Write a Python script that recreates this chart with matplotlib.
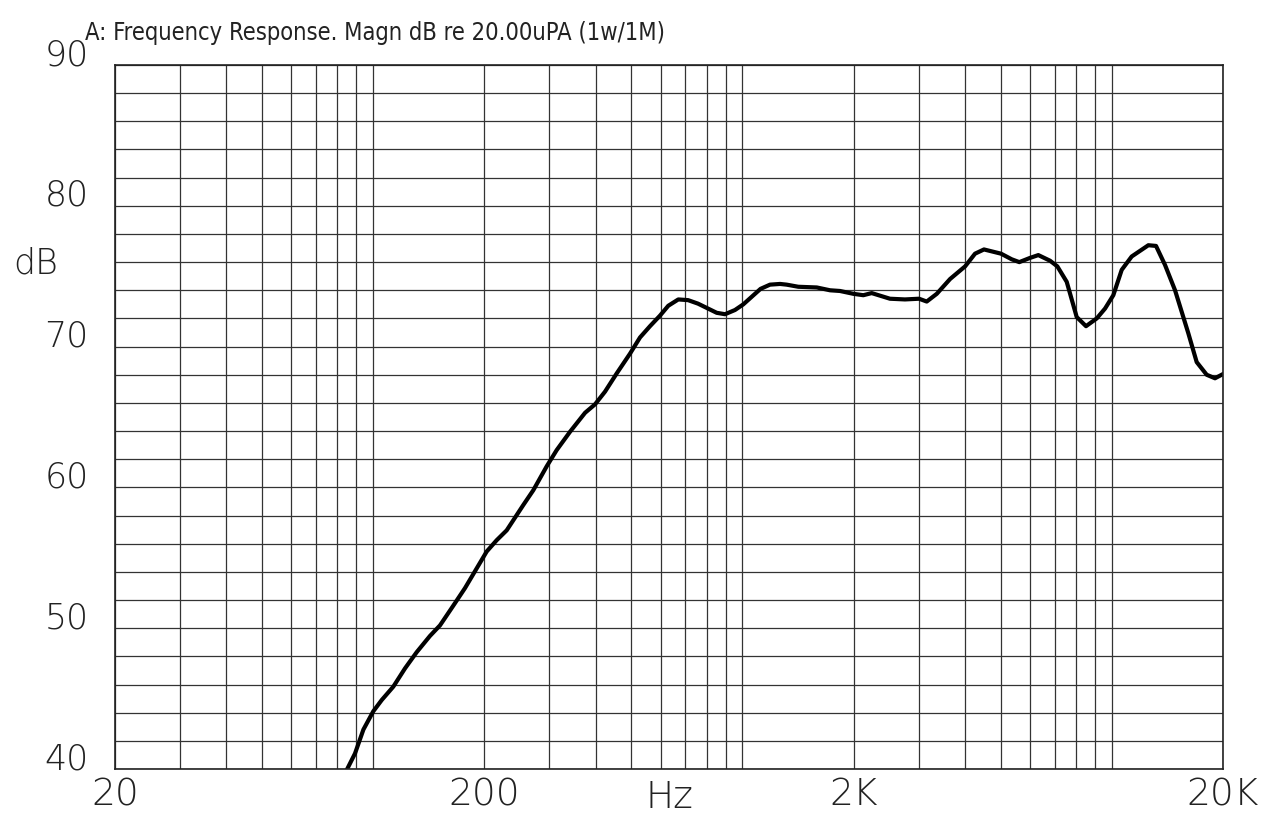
import matplotlib
matplotlib.use("Agg")
import matplotlib.pyplot as plt
from matplotlib.ticker import FixedLocator, NullFormatter
from matplotlib.transforms import ScaledTranslation

# frequency response (Hz, dB)
freq_hz = [84.8, 89.3, 94.1, 100.1, 105.5, 113.4, 122.0, 131.2, 142.5, 151.7,
           164.8, 177.3, 190.7, 203.0, 216.0, 229.9, 255.0, 271.4, 295.1, 314.0,
           341.2, 374.8, 398.8, 424.4, 456.6, 496.0, 527.9, 561.8, 597.9, 629.6,
           670.2, 712.3, 757.9, 851.6, 896.8, 954.4, 1005, 1119, 1187, 1264,
           1317, 1416, 1589, 1726, 1837, 1995, 2124, 2238, 2508, 2754,
           3006, 3154, 3358, 3648, 4007, 4262, 4507, 5012, 5358, 5617,
           6006, 6324, 6803, 7119, 7549, 8034, 8514, 9101, 9585, 10094,
           10636, 11319, 12558, 13173, 13932, 14832, 16110, 16974, 18066, 19026,
           20000]
spl_db = [39.93, 41.1, 42.8, 44.1, 44.9, 45.85, 47.15, 48.3, 49.45, 50.2,
          51.6, 52.85, 54.25, 55.45, 56.25, 56.95, 58.75, 59.8, 61.5, 62.65,
          63.95, 65.3, 65.9, 66.8, 68.1, 69.5, 70.65, 71.45, 72.2, 72.9,
          73.35, 73.3, 73.05, 72.4, 72.3, 72.6, 73.0, 74.1, 74.4, 74.45,
          74.4, 74.25, 74.2, 74.0, 73.95, 73.75, 73.65, 73.8, 73.4, 73.35,
          73.4, 73.2, 73.75, 74.8, 75.7, 76.6, 76.9, 76.6, 76.2, 76.0,
          76.3, 76.5, 76.1, 75.7, 74.6, 72.1, 71.45, 72.0, 72.7, 73.65,
          75.45, 76.4, 77.2, 77.15, 75.8, 74.0, 70.95, 68.9, 68.0, 67.75,
          68.05]

x_major = [20, 200, 2000, 20000]
x_labels = ["20", "200", "2K", "20K"]
x_minor = [m * d for d in (10, 100, 1000) for m in range(1, 10) if m * d not in (20, 200, 2000)] + [10000]
x_minor = [v for v in x_minor if 20 < v < 20000]
y_major = [40, 50, 60, 70, 80, 90]
y_minor = list(range(42, 90, 2))

fig = plt.figure(figsize=(12.75, 8.18), dpi=100)
ax = fig.add_axes([115 / 1275, 1 - 769 / 818, 1108 / 1275, 704 / 818])

ax.plot(freq_hz, spl_db, color="black", lw=3.0, solid_joinstyle="round")

ax.set_xscale("log")
ax.set_xlim(20, 20000)
ax.set_ylim(40, 90)

ax.xaxis.set_major_locator(FixedLocator(x_major))
ax.xaxis.set_minor_locator(FixedLocator(x_minor))
ax.xaxis.set_minor_formatter(NullFormatter())
ax.set_xticklabels(x_labels)
ax.yaxis.set_major_locator(FixedLocator(y_major))
ax.yaxis.set_minor_locator(FixedLocator(y_minor))

ax.grid(True, which="both", color="#333333", lw=0.9)
ax.set_axisbelow(True)
for s in ax.spines.values():
    s.set_linewidth(1.2)
    s.set_color("#222222")

ax.tick_params(which="both", length=0)
ax.tick_params(axis="x", pad=6, labelsize=27)
ax.tick_params(axis="y", pad=19, labelsize=25)
for lab in ax.get_xticklabels() + ax.get_yticklabels():
    lab.set_fontweight("light")
    lab.set_color("#222222")
up = ScaledTranslation(0, 13.5 / 100, fig.dpi_scale_trans)
for lab in ax.get_yticklabels():
    lab.set_transform(lab.get_transform() + up)

fig.text(85 / 1275, 1 - 40 / 818, "A: Frequency Response. Magn dB re 20.00uPA (1w/1M)",
         fontsize=17, fontstretch="condensed", fontweight="light", ha="left", va="baseline",
         color="#222222")
fig.text(36 / 1275, 1 - 264 / 818, "dB", fontsize=25, fontweight="light",
         ha="center", va="center", color="#222222")
fig.text(669 / 1275, 1 - 797 / 818, "Hz", fontsize=27, fontweight="light",
         ha="center", va="center", color="#222222")

fig.savefig("out.png", dpi=100)
